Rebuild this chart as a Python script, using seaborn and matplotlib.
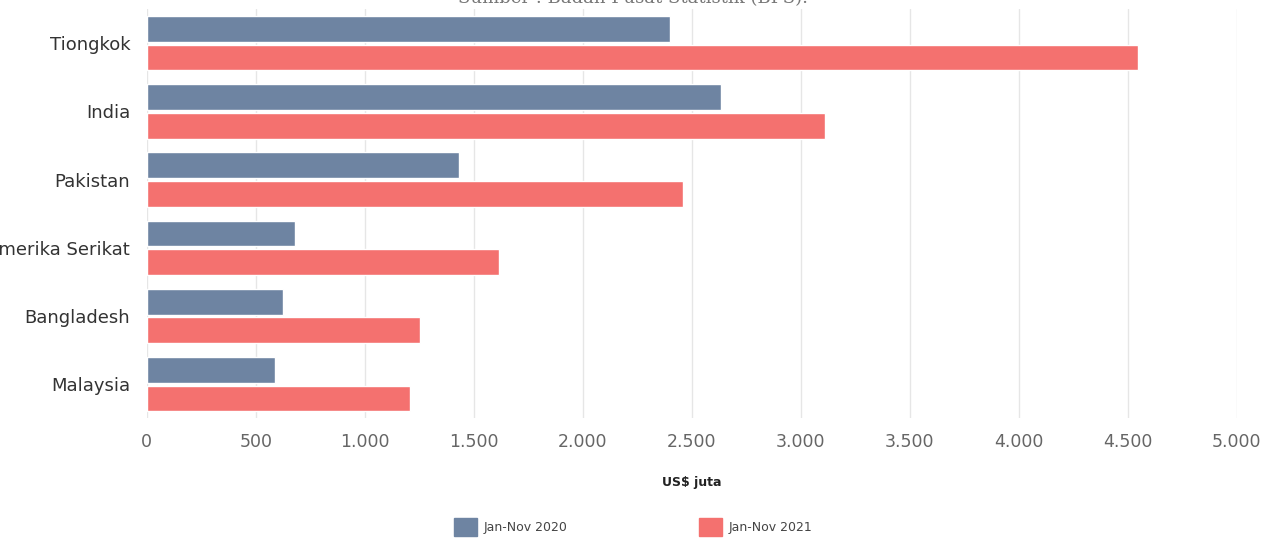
import matplotlib
matplotlib.use('Agg')
import matplotlib.pyplot as plt
import matplotlib.ticker as mticker
import pandas as pd
import seaborn as sns

# Data (US$ juta)
negara = ['Tiongkok', 'India', 'Pakistan', 'Amerika Serikat', 'Bangladesh', 'Malaysia']
nilai_2020 = [2400, 2635, 1430, 680, 625, 590]
nilai_2021 = [4545, 3110, 2460, 1615, 1252, 1207]
periode = ['Jan-Nov 2020', 'Jan-Nov 2021']
warna = ['#6e84a2', '#f4716f']

df = pd.DataFrame({
    'negara': negara * 2,
    'nilai': nilai_2020 + nilai_2021,
    'periode': [periode[0]] * len(negara) + [periode[1]] * len(negara),
})

sns.set_style('white')
plt.rcParams['font.family'] = ['DejaVu Sans']

fig = plt.figure(figsize=(12.66, 5.41), dpi=100)
ax = fig.add_axes([0.116, 0.227, 0.861, 0.756])

sns.barplot(data=df, y='negara', x='nilai', hue='periode', order=negara,
            hue_order=periode, palette=warna, orient='h', width=0.84, gap=0.1,
            saturation=1, ax=ax, legend=False)

ax.set_xlim(0, 5000)
ax.set_ylim(5.5, -0.5)
ax.xaxis.set_major_locator(mticker.MultipleLocator(500))
ax.xaxis.set_major_formatter(mticker.FuncFormatter(lambda v, p: f'{int(v):,}'.replace(',', '.')))
ax.grid(axis='x', color='#e6e6e6', linewidth=1)
ax.set_axisbelow(True)
for s in ax.spines.values():
    s.set_visible(False)
ax.tick_params(axis='x', length=0, pad=11, labelsize=12.5, colors='#666666')
ax.tick_params(axis='y', length=0, pad=12, labelsize=13, colors='#333333')
ax.set_ylabel('')
ax.set_xlabel('US$ juta', fontsize=9, fontweight='bold', color='#222222', labelpad=18)

fig.text(0.5, 1.004, 'Sumber : Badan Pusat Statistik (BPS).', ha='center', va='center',
         family='serif', fontsize=13, color='#777777')

handles = [plt.Rectangle((0, 0), 1, 1, color=c) for c in warna]
fig.legend(handles, periode, loc='center', bbox_to_anchor=(0.5, 0.026), ncol=2,
           frameon=False, fontsize=9, handlelength=1.9, handleheight=1.9,
           columnspacing=10.5, handletextpad=0.5, labelcolor='#444444')

fig.savefig('out.png', dpi=100)
